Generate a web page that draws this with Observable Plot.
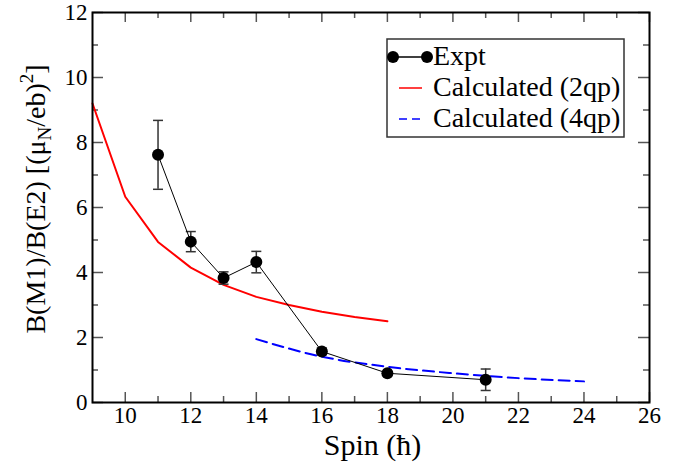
<!DOCTYPE html>
<html><head><meta charset="utf-8">
<script src="https://cdn.jsdelivr.net/npm/d3@7"></script>
<script src="https://cdn.jsdelivr.net/npm/@observablehq/plot@0.6"></script>
<style>body{margin:0;background:#fff}</style>
</head><body><div id="chart"></div>
<script>
const exptSpin  = [11, 12, 13, 14, 16, 18, 21];
const exptValue = [7.62, 4.95, 3.83, 4.32, 1.57, 0.90, 0.70];
const exptError = [1.06, 0.31, 0.19, 0.33, 0.10, 0.05, 0.33];
const calc2Spin  = [9, 10, 11, 12, 13, 14, 15, 16, 17, 18];
const calc2Value = [9.2, 6.33, 4.94, 4.15, 3.62, 3.25, 3.0, 2.79, 2.63, 2.50];
const calc4Spin  = [14, 16, 18, 20, 22, 24];
const calc4Value = [1.95, 1.41, 1.10, 0.90, 0.75, 0.65];
const xMajor = [10, 12, 14, 16, 18, 20, 22, 24, 26];
const xMinor = [11, 13, 15, 17, 19, 21, 23, 25];
const yMajor = [0, 2, 4, 6, 8, 10, 12];
const yMinor = [1, 3, 5, 7, 9, 11];

const expt = exptSpin.map((s, i) => ({spin: s, v: exptValue[i], lo: exptValue[i] - exptError[i], hi: exptValue[i] + exptError[i]}));
const calc2 = calc2Spin.map((s, i) => ({spin: s, v: calc2Value[i]}));
const calc4 = calc4Spin.map((s, i) => ({spin: s, v: calc4Value[i]}));

const W = 695, H = 465, mL = 92, mR = 46, mT = 12, mB = 63;
const iw = W - mL - mR, ih = H - mT - mB;
const font = "'Liberation Serif', 'Times New Roman', serif";
const capSym = {draw(ctx) { ctx.moveTo(-5, 0); ctx.lineTo(5, 0); }};
const tickCol = "#555";

const plot = Plot.plot({
  width: W, height: H,
  marginLeft: mL, marginRight: mR, marginTop: mT, marginBottom: mB,
  style: {fontFamily: font, fontSize: "23px", background: "#fff", color: "#000"},
  x: {domain: [9, 26], label: null},
  y: {domain: [0, 12], label: null},
  marks: [
    Plot.ruleX(xMajor, {x: d => d, insetTop: ih - 10, stroke: tickCol, strokeWidth: 1.5}),
    Plot.ruleX(xMinor, {x: d => d, insetTop: ih - 6, stroke: tickCol, strokeWidth: 1.5}),
    Plot.ruleX(xMajor, {x: d => d, insetBottom: ih - 10, stroke: tickCol, strokeWidth: 1.5}),
    Plot.ruleX(xMinor, {x: d => d, insetBottom: ih - 6, stroke: tickCol, strokeWidth: 1.5}),
    Plot.ruleY(yMajor, {y: d => d, insetRight: iw - 11, stroke: tickCol, strokeWidth: 1.5}),
    Plot.ruleY(yMinor, {y: d => d, insetRight: iw - 6, stroke: tickCol, strokeWidth: 1.5}),
    Plot.ruleY(yMajor, {y: d => d, insetLeft: iw - 11, stroke: tickCol, strokeWidth: 1.5}),
    Plot.ruleY(yMinor, {y: d => d, insetLeft: iw - 6, stroke: tickCol, strokeWidth: 1.5}),
    Plot.axisX({ticks: xMajor, tickSize: 0, tickPadding: 4, fontSize: 23, label: null}),
    Plot.axisY({ticks: yMajor, tickSize: 0, tickPadding: 5, fontSize: 23, label: null}),
    Plot.line(calc2, {x: "spin", y: "v", stroke: "#ff0000", strokeWidth: 2}),
    Plot.line(calc4, {x: "spin", y: "v", stroke: "#0000ff", strokeWidth: 2, strokeDasharray: "11,6", curve: "monotone-x"}),
    Plot.ruleX(expt, {x: "spin", y1: "lo", y2: "hi", stroke: "#333", strokeWidth: 1.5}),
    Plot.dot(expt, {x: "spin", y: "lo", symbol: capSym, stroke: "#333", strokeWidth: 1.5, r: 5}),
    Plot.dot(expt, {x: "spin", y: "hi", symbol: capSym, stroke: "#333", strokeWidth: 1.5, r: 5}),
    Plot.line(expt, {x: "spin", y: "v", stroke: "#000", strokeWidth: 1}),
    Plot.dot(expt, {x: "spin", y: "v", fill: "#000", r: 6}),
    Plot.frame({stroke: "#000", strokeWidth: 2})
  ]
});
document.getElementById("chart").appendChild(plot);

const svg = d3.select(plot);
svg.append("text")
  .attr("x", mL + iw / 2 + 2).attr("y", 455)
  .attr("text-anchor", "middle").attr("font-size", 30).attr("font-family", font)
  .text("Spin (ħ)");
const yl = svg.append("text")
  .attr("transform", "translate(45,199) rotate(-90)")
  .attr("text-anchor", "middle").attr("font-size", 28).attr("font-family", font);
yl.append("tspan").text("B(M1)/B(E2) [(μ");
yl.append("tspan").attr("dy", 6).attr("font-size", 19).text("N");
yl.append("tspan").attr("dy", -6).text("/eb)");
yl.append("tspan").attr("dy", -12).attr("font-size", 19).text("2");
yl.append("tspan").attr("dy", 12).text("]");

const lg = svg.append("g").attr("font-family", font).attr("font-size", 28).attr("text-anchor", "start");
lg.append("rect").attr("x", 387).attr("y", 39).attr("width", 237).attr("height", 98)
  .attr("fill", "#fff").attr("stroke", "#333").attr("stroke-width", 1.5);
lg.append("line").attr("x1", 393).attr("x2", 427).attr("y1", 57).attr("y2", 57).attr("stroke", "#000").attr("stroke-width", 1.5);
lg.append("circle").attr("cx", 393).attr("cy", 57).attr("r", 6).attr("fill", "#000");
lg.append("circle").attr("cx", 427).attr("cy", 57).attr("r", 6).attr("fill", "#000");
lg.append("text").attr("x", 433).attr("y", 65).text("Expt");
lg.append("line").attr("x1", 399).attr("x2", 422).attr("y1", 88).attr("y2", 88).attr("stroke", "#ff0000").attr("stroke-width", 1.5);
lg.append("text").attr("x", 433).attr("y", 96).text("Calculated (2qp)");
lg.append("line").attr("x1", 399).attr("x2", 422).attr("y1", 119).attr("y2", 119).attr("stroke", "#0000ff").attr("stroke-width", 1.5).attr("stroke-dasharray", "8,5");
lg.append("text").attr("x", 433).attr("y", 127).text("Calculated (4qp)");
</script>
</body></html>
